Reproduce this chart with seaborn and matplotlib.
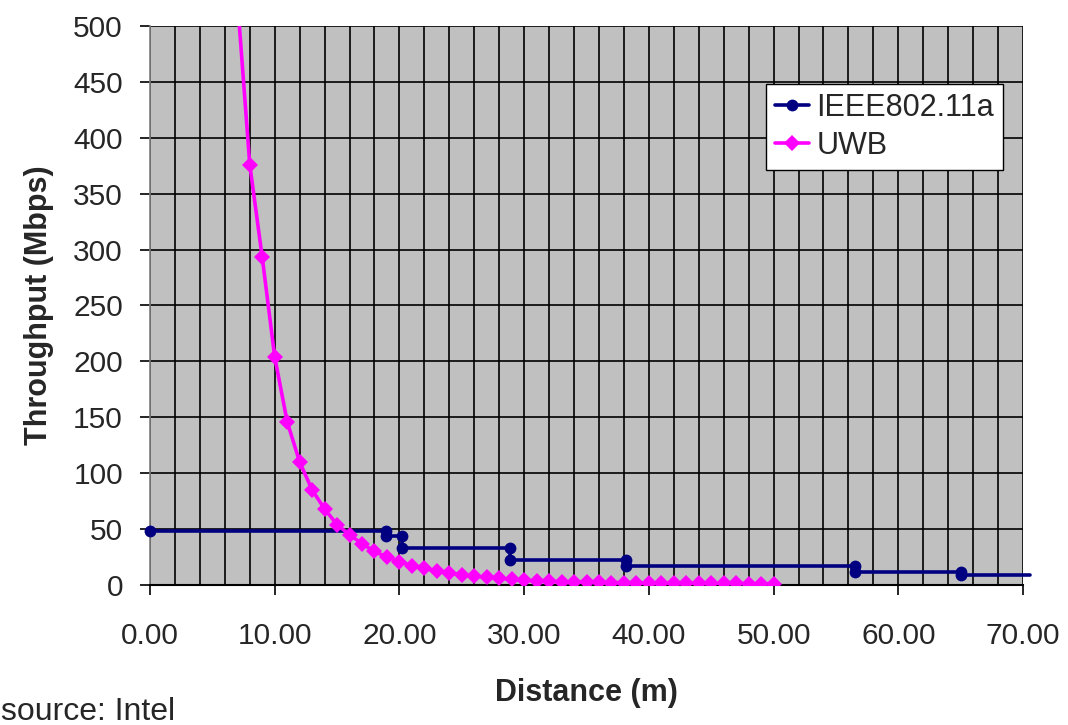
import matplotlib
matplotlib.use("Agg")
import matplotlib.pyplot as plt
import seaborn as sns
import pandas as pd
import numpy as np
from matplotlib.ticker import MultipleLocator, FormatStrFormatter

# ---- data ----
ieee_distance = [0.0, 18.9, 18.9, 20.2, 20.2, 28.9, 28.9, 38.2, 38.2, 56.5, 56.5, 65.0, 65.0, 70.6]
ieee_throughput = [48, 48, 44, 44, 33, 33, 22, 22, 17, 17, 12, 12, 9, 9]

uwb_distance = [7, 8, 9, 10, 11, 12, 13, 14, 15, 16, 17, 18, 19, 20, 21, 22, 23, 24, 25,
                26, 27, 28, 29, 30, 31, 32, 33, 34, 35, 36, 37, 38, 39, 40, 41, 42, 43,
                44, 45, 46, 47, 48, 49, 50]
uwb_throughput = [525, 376, 293, 204, 146, 110, 85, 68, 54, 45, 37, 30, 25, 21, 17.3, 15,
                  12.5, 10.7, 9.2, 8, 6.8, 6, 5, 4.1, 3.7, 3.3, 3.0, 2.8, 2.6, 2.4, 2.2,
                  2.1, 2.0, 1.9, 1.8, 1.7, 1.6, 1.5, 1.45, 1.4, 1.35, 1.3, 1.25, 1.2]

series_names = ["IEEE802.11a", "UWB"]
x_label = "Distance (m)"
y_label = "Throughput (Mbps)"
source_text = "source: Intel"

ieee_df = pd.DataFrame({"Distance": ieee_distance, "Throughput": ieee_throughput})
uwb_df = pd.DataFrame({"Distance": uwb_distance, "Throughput": uwb_throughput})

sns.set_style("white")
plt.rcParams["font.family"] = ["Liberation Sans", "DejaVu Sans"]

fig = plt.figure(figsize=(10.68, 7.25), dpi=100)
ax = fig.add_axes([150 / 1068, 1 - 585 / 725, (1023 - 150) / 1068, (585 - 26) / 725])
ax.set_facecolor("#C0C0C0")

navy = "#000080"
magenta = "#FF00FF"

sns.lineplot(data=ieee_df, x="Distance", y="Throughput", ax=ax, sort=False,
             estimator=None, color=navy, linewidth=2.6, marker="o",
             markersize=8.5, markeredgewidth=0, markevery=list(range(len(ieee_distance) - 1)),
             label=series_names[0], zorder=3)
sns.lineplot(data=uwb_df, x="Distance", y="Throughput", ax=ax, sort=False,
             estimator=None, color=magenta, linewidth=2.6, marker="D",
             markersize=8.5, markeredgewidth=0, label=series_names[1], zorder=4)

# let the 802.11a line run slightly past the right edge like the original
ax.lines[0].set_clip_on(False)

ax.set_xlim(0, 70)
ax.set_ylim(0, 500)
ax.xaxis.set_major_locator(MultipleLocator(10))
ax.xaxis.set_minor_locator(MultipleLocator(2))
ax.yaxis.set_major_locator(MultipleLocator(50))
ax.xaxis.set_major_formatter(FormatStrFormatter("%.2f"))

ax.grid(which="major", axis="y", color="black", linewidth=1.2)
ax.grid(which="both", axis="x", color="black", linewidth=1.2)
ax.set_axisbelow(True)

for side in ["top", "right"]:
    ax.spines[side].set_visible(False)
ax.spines["left"].set_color("#808080")
ax.spines["bottom"].set_color("black")
ax.spines["bottom"].set_linewidth(1.5)
ax.spines["left"].set_linewidth(1.2)

ax.tick_params(axis="both", which="major", direction="out", length=7.5, width=1.2,
               labelsize=21.5, color="black", left=True, bottom=True)
ax.tick_params(axis="x", which="major", pad=19)
ax.tick_params(axis="y", which="major", pad=12)
ax.tick_params(axis="x", which="minor", length=0)

ax.set_xlabel(x_label, fontsize=22, fontweight="bold", labelpad=20)
ax.set_ylabel(y_label, fontsize=22, fontweight="bold", labelpad=14)

leg = ax.legend(loc="upper left", bbox_to_anchor=((766 - 150) / 873, (585 - 84) / 559),
                fontsize=22, frameon=True, fancybox=False, framealpha=1, edgecolor="black",
                handlelength=1.1, handletextpad=0.25, borderpad=0.3, labelspacing=0.25,
                borderaxespad=0)
leg.get_frame().set_linewidth(1.0)

fig.text(1 / 1068, 1 - 720 / 725, source_text, fontsize=23, va="baseline", ha="left")

fig.savefig("out.png", dpi=100)
